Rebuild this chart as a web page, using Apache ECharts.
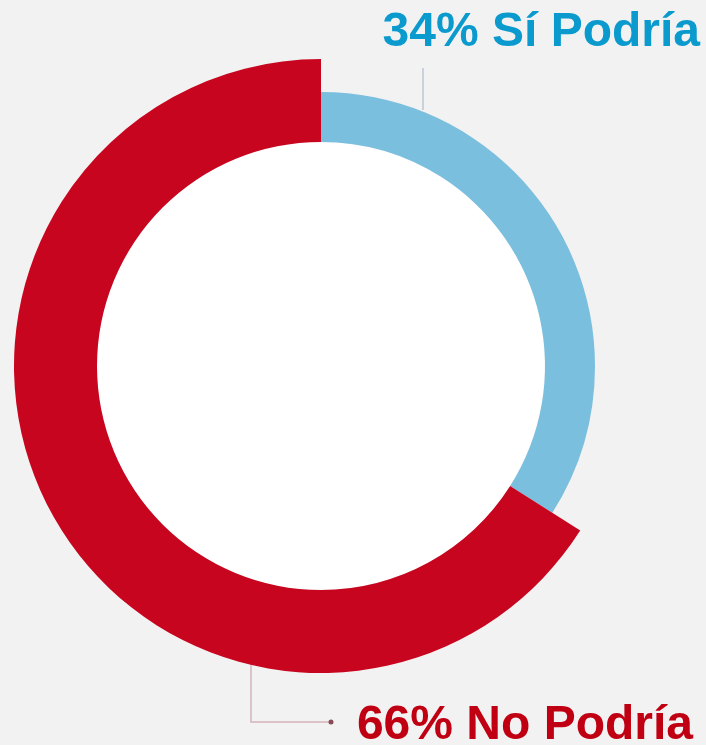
<!DOCTYPE html>
<html>
<head>
<meta charset="utf-8">
<script src="https://cdn.jsdelivr.net/npm/echarts@6/dist/echarts.min.js"></script>
<style>
  html, body { margin: 0; padding: 0; background: #f2f2f2; }
  #chart { width: 706px; height: 745px; }
</style>
</head>
<body>
<div id="chart"></div>
<script>
// Survey answers: share of respondents
const categories = ['Sí Podría', 'No Podría'];
const values = [34, 66];
const sliceColors = ['#7bbfdf', '#c8051f'];
const labelColors = ['#0a9acd', '#c00012'];

const chart = echarts.init(document.getElementById('chart'));

const cx = 321, cy = 366;
const innerR = 224;
const outerR = [274, 307]; // each answer gets its own ring thickness

// One pie series per answer: the other answer's slice is left transparent
const ringSeries = categories.map((name, i) => ({
  type: 'pie',
  center: [cx, cy],
  radius: [innerR, outerR[i]],
  startAngle: 90,
  clockwise: true,
  silent: true,
  animation: false,
  label: { show: false },
  labelLine: { show: false },
  data: categories.map((n, j) => ({
    name: n,
    value: values[j],
    itemStyle: { color: j === i ? sliceColors[j] : 'rgba(0,0,0,0)', borderWidth: 0 }
  }))
}));

const holeSeries = {
  type: 'pie',
  center: [cx, cy],
  radius: [0, innerR],
  silent: true,
  animation: false,
  label: { show: false },
  data: [{ value: 1, itemStyle: { color: '#ffffff' } }]
};

const labelText = i => values[i] + '% ' + categories[i];
const font = 'bold 48px "Liberation Sans", Arial, sans-serif';

chart.setOption({
  backgroundColor: '#f2f2f2',
  series: [holeSeries, ...ringSeries],
  graphic: [
    {
      type: 'text', right: 6, top: 9,
      style: { text: labelText(0), font: font, fill: labelColors[0] }
    },
    {
      type: 'polyline',
      shape: { points: [[423, 68], [423, 110]] },
      style: { stroke: '#c9d2da', lineWidth: 2, fill: null }
    },
    {
      type: 'text', right: 13, top: 702,
      style: { text: labelText(1), font: font, fill: labelColors[1] }
    },
    {
      type: 'polyline',
      shape: { points: [[251, 660], [251, 722], [330, 722]] },
      style: { stroke: '#d4b4ba', lineWidth: 1.5, fill: null }
    },
    {
      type: 'circle',
      shape: { cx: 331, cy: 722, r: 2.5 },
      style: { fill: '#8a4a55' }
    }
  ]
});
</script>
</body>
</html>
